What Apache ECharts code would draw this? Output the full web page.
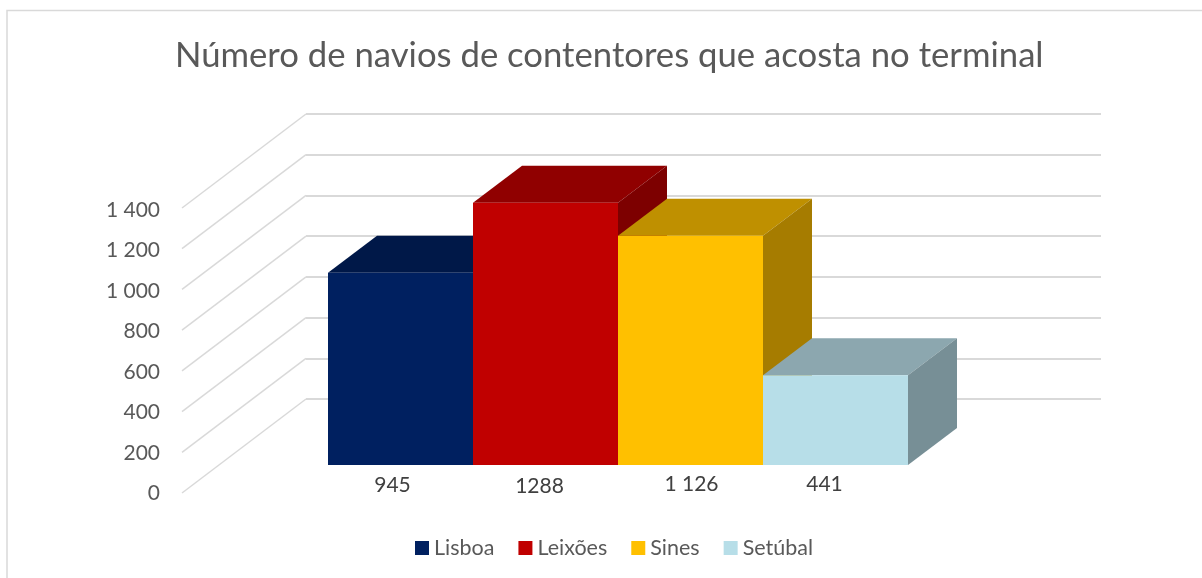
<!DOCTYPE html>
<html>
<head>
<meta charset="utf-8">
<style>
  html, body { margin: 0; padding: 0; background: #fff; }
  #chart { width: 1202px; height: 578px; }
</style>
<script src="https://cdn.jsdelivr.net/npm/echarts@6/dist/echarts.min.js"></script>
</head>
<body>
<div id="chart"></div>
<script>
const ports = ["Lisboa", "Leixões", "Sines", "Setúbal"];
const ships = [945, 1288, 1126, 441];
const shipLabels = ["945", "1288", "1 126", "441"];
const portColors = ["#002060", "#C00000", "#FFC000", "#B7DEE8"];
const topColors = ["#001848", "#900000", "#BF9000", "#8CA7AF"];
const sideColors = ["#00153E", "#7D0000", "#A67C00", "#778F96"];
const yTicks = [0, 200, 400, 600, 800, 1000, 1200, 1400];

// the labels were moved by hand in the original chart
const labelNudge = [[-8, 2], [-6, 3], [1, 1], [-11, 1]];
const barDepth = [49, -37];
const wallDepth = [124, -94];
const fontName = "Lato, 'Open Sans', sans-serif";

function thousands(v) {
  return String(v).replace(/\B(?=(\d{3})+$)/g, " ");
}

let chart = echarts.init(document.getElementById("chart"));

// one custom series for each port, so the legend comes from the library
let barSeries = ports.map(function (name, i) {
  return {
    type: "custom",
    name: name,
    xAxisIndex: 0,
    yAxisIndex: 0,
    z: 5,
    itemStyle: { color: portColors[i] },
    encode: { x: 0, y: 1 },
    data: [[i, ships[i]]],
    renderItem: function (params, api) {
      let top = api.coord([api.value(0), api.value(1)]);
      let base = api.coord([api.value(0), 0]);
      let w = api.size([1, 0])[0];
      let x0 = top[0] - w / 2;
      let x1 = top[0] + w / 2;
      let dx = barDepth[0];
      let dy = barDepth[1];
      return {
        type: "group",
        children: [
          {
            type: "polygon",
            shape: { points: [[x0, top[1]], [x1, top[1]], [x1 + dx, top[1] + dy], [x0 + dx, top[1] + dy]] },
            style: { fill: topColors[i] }
          },
          {
            type: "polygon",
            shape: { points: [[x1, top[1]], [x1 + dx, top[1] + dy], [x1 + dx, base[1] + dy], [x1, base[1]]] },
            style: { fill: sideColors[i] }
          },
          {
            type: "rect",
            shape: { x: x0, y: top[1], width: w, height: base[1] - top[1] },
            style: { fill: portColors[i] }
          },
          {
            type: "text",
            x: top[0] + labelNudge[i][0],
            y: base[1] + 18 + labelNudge[i][1],
            style: {
              text: shipLabels[i],
              fill: "#404040",
              font: "21px " + fontName,
              align: "center",
              verticalAlign: "middle"
            }
          }
        ]
      };
    }
  };
});

// slanted lines of the side wall, from the tick at the front to the back wall
let wallSeries = {
  type: "custom",
  xAxisIndex: 1,
  yAxisIndex: 1,
  z: 1,
  silent: true,
  legendHoverLink: false,
  encode: { y: 0 },
  data: yTicks.map(function (v) { return [v]; }),
  renderItem: function (params, api) {
    let p = api.coord([0, api.value(0)]);
    return {
      type: "line",
      shape: { x1: p[0], y1: p[1], x2: p[0] + wallDepth[0], y2: p[1] + wallDepth[1] },
      style: { stroke: "#D9D9D9", lineWidth: 1.5 }
    };
  }
};

chart.setOption({
  animation: false,
  backgroundColor: "#fff",
  title: {
    text: "Número de navios de contentores que acosta no terminal",
    left: 170,
    top: 33,
    textStyle: { color: "#595959", fontSize: 34.7, fontWeight: "normal", fontFamily: fontName }
  },
  legend: {
    data: ports,
    left: 415,
    top: 537,
    padding: 0,
    icon: "rect",
    itemWidth: 14,
    itemHeight: 14,
    itemGap: 24,
    textStyle: { color: "#595959", fontSize: 21.5, fontFamily: fontName }
  },
  grid: [
    { left: 328, top: 180, width: 580, height: 285 },
    { left: 182, top: 208, width: 124, height: 285 },
    { left: 306, top: 114, width: 795, height: 285 },
    // only carries the tick labels, their spacing is a bit tighter than the wall
    { left: 182, top: 210, width: 124, height: 283.5 }
  ],
  xAxis: [
    { type: "category", gridIndex: 0, data: ports, show: false },
    { type: "value", gridIndex: 1, min: 0, max: 1, show: false },
    { type: "value", gridIndex: 2, min: 0, max: 1, show: false },
    { type: "value", gridIndex: 3, min: 0, max: 1, show: false }
  ],
  yAxis: [
    { type: "value", gridIndex: 0, min: 0, max: 1400, interval: 200, show: false },
    { type: "value", gridIndex: 1, min: 0, max: 1400, interval: 200, show: false },
    {
      type: "value",
      gridIndex: 2,
      min: 0,
      max: 1400,
      interval: 200,
      axisLine: { show: false },
      axisTick: { show: false },
      axisLabel: { show: false },
      splitLine: { lineStyle: { color: "#D9D9D9", width: 2 } }
    },
    {
      type: "value",
      gridIndex: 3,
      min: 0,
      max: 1400,
      interval: 200,
      axisLine: { show: false },
      axisTick: { show: false },
      splitLine: { show: false },
      axisLabel: {
        color: "#595959",
        fontSize: 21,
        fontFamily: fontName,
        margin: 22,
        formatter: thousands
      }
    }
  ],
  graphic: [
    {
      type: "polyline",
      silent: true,
      shape: { points: [[7, 578], [7, 10.5], [1202, 10.5]] },
      style: { stroke: "#D9D9D9", lineWidth: 1.5, fill: null }
    }
  ],
  series: [wallSeries].concat(barSeries)
});
</script>
</body>
</html>
